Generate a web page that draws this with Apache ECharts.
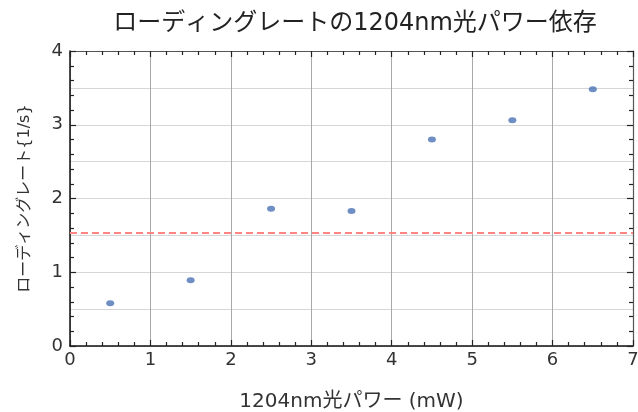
<!DOCTYPE html>
<html>
<head>
<meta charset="utf-8">
<script src="https://cdn.jsdelivr.net/npm/echarts@6/dist/echarts.min.js"></script>
<style>
html,body{margin:0;padding:0;background:#fff;}
#c{width:638px;height:412px;}
</style>
</head>
<body>
<div id="c"></div>
<script>
const titleText = 'ローディングレートの1204nm光パワー依存';
const xName = '1204nm光パワー (mW)';
const yName = 'ローディングレート{1/s}';
const powers = [0.5, 1.5, 2.5, 3.5, 4.5, 5.5, 6.5];
const rates = [0.58, 0.89, 1.86, 1.83, 2.80, 3.06, 3.48];
const thresholdRate = 1.54;
const xRange = [0, 7];
const yRange = [0, 4];

const font = '"DejaVu Sans", "Noto Sans CJK JP", sans-serif';
const chart = echarts.init(document.getElementById('c'), null, {renderer: 'canvas'});

const tickCommon = {
  axisTick: {show: true, inside: true, length: 6, lineStyle: {color: '#222', width: 1.2}},
  minorTick: {show: true, splitNumber: 5, length: 4, lineStyle: {color: '#222', width: 1.2}}
};

chart.setOption({
  animation: false,
  backgroundColor: '#fff',
  title: {
    text: titleText,
    left: 350, top: 7, textAlign: 'center',
    textStyle: {fontFamily: font, fontSize: 24, fontWeight: 'normal', color: '#222'}
  },
  grid: {left: 70, right: 5, top: 51, bottom: 66, containLabel: false, outerBoundsMode: 'none'},
  xAxis: [
    Object.assign({
      type: 'value', position: 'bottom', min: xRange[0], max: xRange[1], interval: 1,
      name: xName, nameLocation: 'middle', nameGap: 46,
      nameTextStyle: {fontFamily: font, fontSize: 20, color: '#333'},
      axisLine: {show: true, onZero: false, lineStyle: {color: '#111', width: 1.5}},
      axisLabel: {fontFamily: font, fontSize: 18, color: '#333', margin: 5},
      splitLine: {show: true, lineStyle: {color: '#a8a8a8', width: 1}}
    }, tickCommon),
    Object.assign({
      type: 'value', position: 'top', min: xRange[0], max: xRange[1], interval: 1,
      axisLine: {show: true, onZero: false, lineStyle: {color: '#555', width: 1.2}},
      axisLabel: {show: false},
      splitLine: {show: false}
    }, tickCommon)
  ],
  yAxis: [
    Object.assign({
      type: 'value', position: 'left', min: yRange[0], max: yRange[1], interval: 1,
      name: yName, nameLocation: 'middle', nameGap: 37, nameRotate: 90,
      nameTextStyle: {fontFamily: font, fontSize: 16, color: '#333'},
      axisLine: {show: true, onZero: false, lineStyle: {color: '#111', width: 1.5}},
      axisLabel: {fontFamily: font, fontSize: 18, color: '#333', margin: 7},
      splitLine: {show: false}
    }, tickCommon),
    Object.assign({
      type: 'value', position: 'right', min: yRange[0], max: yRange[1], interval: 1,
      axisLine: {show: true, onZero: false, lineStyle: {color: '#555', width: 1.2}},
      axisLabel: {show: false},
      splitLine: {show: false}
    }, tickCommon),
    {
      type: 'value', position: 'left', min: yRange[0], max: yRange[1], interval: 0.5,
      axisLine: {show: false}, axisTick: {show: false}, axisLabel: {show: false},
      splitLine: {show: true, lineStyle: {color: '#d6d6d6', width: 1.2}}
    }
  ],
  series: [
    {
      type: 'scatter', xAxisIndex: 0, yAxisIndex: 0,
      data: powers.map((p, i) => [p, rates[i]]),
      symbol: 'circle', symbolSize: [8, 6],
      itemStyle: {color: '#4a72b5'},
      markLine: {
        silent: true, symbol: 'none', label: {show: false},
        lineStyle: {color: '#ff8585', width: 2, type: [7, 4]},
        data: [{yAxis: thresholdRate}]
      },
      z: 5
    }
  ]
});
</script>
</body>
</html>
